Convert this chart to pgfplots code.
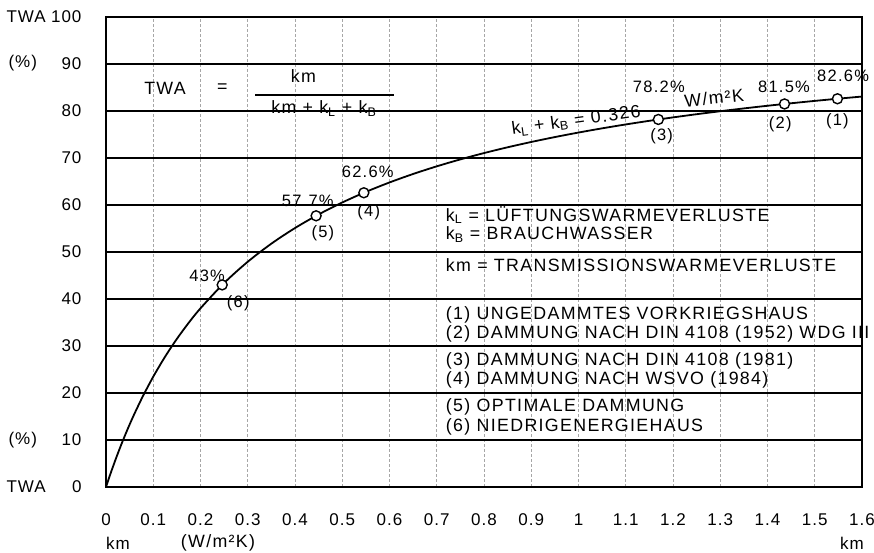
\documentclass[border=0pt]{standalone}
\usepackage{pgfplots}
\pgfplotsset{compat=1.18}
\usepackage{fontspec}
\setmainfont{Liberation Sans}[LetterSpace=6]
\newfontfamily\wide{Liberation Sans}[LetterSpace=7.5]
\newcommand{\fbig}{\fontsize{17}{20}\selectfont}
\newcommand{\ftxt}{\wide\fontsize{17.8}{21}\selectfont}
\newcommand{\fmid}{\wide\fontsize{16.5}{19}\selectfont}
\begin{document}
\begin{tikzpicture}
\path[use as bounding box] (-106pt,-66pt) rectangle (768pt,487pt);
\begin{axis}[
  at={(0pt,0pt)}, anchor=south west,
  scale only axis, width=756pt, height=470pt,
  xmin=0, xmax=1.6, ymin=0, ymax=100,
  clip=false,
  xtick={0,0.1,0.2,0.3,0.4,0.5,0.6,0.7,0.8,0.9,1,1.1,1.2,1.3,1.4,1.5,1.6},
  xticklabels={0,0.1,0.2,0.3,0.4,0.5,0.6,0.7,0.8,0.9,1,1.1,1.2,1.3,1.4,1.5,1.6},
  ytick={0,10,20,30,40,50,60,70,80,90,100},
  yticklabels={0,10,20,30,40,50,60,70,80,90,100},
  major tick length=0pt,
  xmajorgrids, ymajorgrids,
  x grid style={densely dashed, gray!70, line width=0.6pt},
  y grid style={black, line width=1.6pt},
  axis line style={black, line width=1.2pt},
  tick label style={font=\fbig},
  xticklabel style={yshift=-23pt},
  yticklabel style={xshift=-21pt},
]
\addplot[black, line width=1.8pt, smooth] coordinates {
 (0,0) (0.005,1.511) (0.01,2.976) (0.02,5.780) (0.03,8.427) (0.04,10.929)
 (0.05,13.298) (0.06,15.544) (0.075,18.703) (0.08,19.704) (0.1,23.474)
 (0.125,27.716) (0.15,31.513) (0.175,34.930) (0.2,38.023) (0.25,43.403)
 (0.3,47.923) (0.35,51.775) (0.4,55.096) (0.45,57.990) (0.5,60.533)
 (0.55,62.785) (0.6,64.795) (0.65,66.598) (0.7,68.226) (0.75,69.703)
 (0.8,71.048) (0.85,72.279) (0.9,73.409) (0.95,74.451) (1.0,75.415)
 (1.05,76.308) (1.1,77.139) (1.15,77.913) (1.2,78.637) (1.25,79.315)
 (1.3,79.951) (1.35,80.549) (1.4,81.112) (1.45,81.644) (1.5,82.147)
 (1.55,82.623) (1.6,83.074)
};
\addplot[only marks, mark=*, mark size=5pt,
  mark options={fill=white, draw=black, line width=1.4pt}] coordinates {
 (0.2459,43.0) (0.4447,57.7) (0.5457,62.6) (1.169,78.2) (1.436,81.5) (1.548,82.6)
};
% formula
\node[font=\ftxt] at (axis cs:0.125,84.9) {TWA};
\node[font=\ftxt] at (axis cs:0.246,84.9) {=};
\node[font=\ftxt] at (axis cs:0.418,87.4) {km};
\draw[black, line width=1.2pt] (axis cs:0.316,83.4) -- (axis cs:0.609,83.4);
\node[font=\ftxt] at (axis cs:0.461,80.5) {km + k\textsubscript{L} + k\textsubscript{B}};
% point labels
\node[font=\fmid] at (axis cs:0.214,44.9) {43\%};
\node[font=\fmid] at (axis cs:0.280,39.1) {(6)};
\node[font=\fmid] at (axis cs:0.427,60.8) {57.7\%};
\node[font=\fmid] at (axis cs:0.459,53.9) {(5)};
\node[font=\fmid] at (axis cs:0.554,67.0) {62.6\%};
\node[font=\fmid] at (axis cs:0.556,58.5) {(4)};
\node[font=\fmid] at (axis cs:1.170,85.1) {78.2\%};
\node[font=\fmid] at (axis cs:1.176,74.7) {(3)};
\node[font=\fmid] at (axis cs:1.435,85.1) {81.5\%};
\node[font=\fmid] at (axis cs:1.427,77.2) {(2)};
\node[font=\fmid] at (axis cs:1.560,87.4) {82.6\%};
\node[font=\fmid] at (axis cs:1.548,77.9) {(1)};
\node[font=\ftxt, rotate=8] at (axis cs:0.995,77.9) {k\textsubscript{L} + k\textsubscript{B} = 0.326};
\node[font=\ftxt, rotate=6] at (axis cs:1.287,82.8) {W/m²K};
% text block
\node[font=\ftxt, anchor=west] at (axis cs:0.712,57.9) {k\textsubscript{L} = LÜFTUNGSWARMEVERLUSTE};
\node[font=\ftxt, anchor=west] at (axis cs:0.712,53.7) {k\textsubscript{B} = BRAUCHWASSER};
\node[font=\ftxt, anchor=west] at (axis cs:0.712,47.2) {km = TRANSMISSIONSWARMEVERLUSTE};
\node[font=\ftxt, anchor=west] at (axis cs:0.712,36.6) {(1) UNGEDAMMTES VORKRIEGSHAUS};
\node[font=\ftxt, anchor=west] at (axis cs:0.712,32.6) {(2) DAMMUNG NACH DIN 4108 (1952) WDG III};
\node[font=\ftxt, anchor=west] at (axis cs:0.712,26.8) {(3) DAMMUNG NACH DIN 4108 (1981)};
\node[font=\ftxt, anchor=west] at (axis cs:0.712,22.8) {(4) DAMMUNG NACH WSVO (1984)};
\node[font=\ftxt, anchor=west] at (axis cs:0.712,17.0) {(5) OPTIMALE DAMMUNG};
\node[font=\ftxt, anchor=west] at (axis cs:0.712,12.8) {(6) NIEDRIGENERGIEHAUS};
\end{axis}
\node[font=\fbig, anchor=west] at (-103pt,470pt) {TWA};
\node[font=\fbig, anchor=west] at (-101pt,424pt) {(\%)};
\node[font=\fbig, anchor=west] at (-101pt,47pt) {(\%)};
\node[font=\fbig, anchor=west] at (-103pt,0pt) {TWA};
\node[font=\fbig] at (12pt,-56pt) {km};
\node[font=\ftxt] at (112pt,-56pt) {(W/m²K)};
\node[font=\fbig] at (746pt,-56pt) {km};
\end{tikzpicture}
\end{document}
